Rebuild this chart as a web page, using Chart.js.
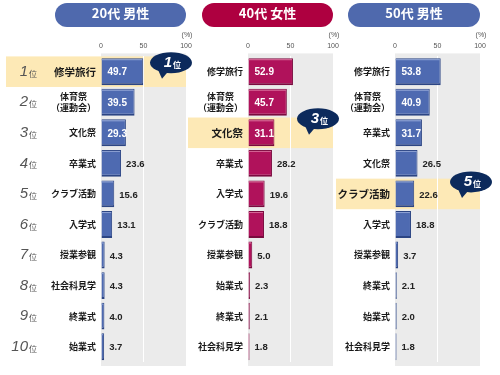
<!DOCTYPE html>
<html>
<head>
<meta charset="utf-8">
<script src="https://cdn.jsdelivr.net/npm/chart.js@4"></script>
<style>
  html, body { margin: 0; padding: 0; background: #fff; }
  #wrap { position: relative; width: 500px; height: 375px; overflow: hidden; }
  #wrap canvas { position: absolute; left: 0; top: 0; }
  .head {
    position: absolute; top: 3px; height: 24px; line-height: 24px;
    border-radius: 12px; color: #fff; text-align: center; z-index: 2;
    font: bold 13px "Noto Sans CJK JP", sans-serif;
  }
</style>
</head>
<body>
<div id="wrap">
  <div class="head" style="left:55px;width:131px;background:#4f69ad;">20代 男性</div>
  <div class="head" style="left:202px;width:131px;background:#ae0040;">40代 女性</div>
  <div class="head" style="left:348px;width:132px;background:#4f69ad;">50代 男性</div>
  <canvas id="c20m" width="500" height="375"></canvas>
  <canvas id="c40f" width="500" height="375"></canvas>
  <canvas id="c50m" width="500" height="375"></canvas>
</div>
<script>
// ---- data ----
const ranks = ['1', '2', '3', '4', '5', '6', '7', '8', '9', '10'];
const xTicks = [0, 50, 100];

const labels20m = ['修学旅行', ['体育祭　', '（運動会）'], '文化祭', '卒業式', 'クラブ活動', '入学式', '授業参観', '社会科見学', '終業式', '始業式'];
const values20m = [49.7, 39.5, 29.3, 23.6, 15.6, 13.1, 4.3, 4.3, 4.0, 3.7];

const labels40f = ['修学旅行', ['体育祭　', '（運動会）'], '文化祭', '卒業式', '入学式', 'クラブ活動', '授業参観', '始業式', '終業式', '社会科見学'];
const values40f = [52.9, 45.7, 31.1, 28.2, 19.6, 18.8, 5.0, 2.3, 2.1, 1.8];

const labels50m = ['修学旅行', ['体育祭　', '（運動会）'], '卒業式', '文化祭', 'クラブ活動', '入学式', '授業参観', '終業式', '始業式', '社会科見学'];
const values50m = [53.8, 40.9, 31.7, 26.5, 22.6, 18.8, 3.7, 2.1, 2.0, 1.8];

// rank that is highlighted in each panel (1-based)
const highlight20m = 1;
const highlight40f = 3;
const highlight50m = 5;

const JP = '"Noto Sans CJK JP", sans-serif';
const NUM = '"Liberation Sans", Arial, sans-serif';
const INSIDE_MIN = 29; // values at or above this get a white label inside the bar

// Draws the grey plot, highlight band, value labels, ranks and the bubble
const panelDecor = {
    id: 'panelDecor',
    beforeDraw(chart, args, opts) {
        const { ctx, chartArea: a, scales: { y } } = chart;
        const band = (a.bottom - a.top) / chart.data.labels.length;
        const hy = y.getPixelForValue(opts.highlight - 1);
        ctx.save();
        ctx.fillStyle = '#ebebeb';
        ctx.fillRect(a.left, a.top - 3, a.right - a.left, a.bottom - a.top + 7);
        ctx.fillStyle = '#fde9b6';
        ctx.fillRect(a.left - opts.bandLeft, hy - band / 2, a.right - a.left + opts.bandLeft, band);
        ctx.restore();
    },
    afterDatasetsDraw(chart, args, opts) {
        const { ctx } = chart;
        const meta = chart.getDatasetMeta(0);
        const values = chart.data.datasets[0].data;
        ctx.save();
        // light top edge on each bar (bevel look)
        ctx.strokeStyle = opts.shine;
        ctx.lineWidth = 1;
        meta.data.forEach((bar) => {
            const top = bar.y - bar.height / 2 + 1.5;
            ctx.beginPath();
            ctx.moveTo(bar.base, top);
            ctx.lineTo(bar.x - 1, top);
            ctx.stroke();
        });
        ctx.textBaseline = 'middle';
        ctx.textAlign = 'left';
        meta.data.forEach((bar, i) => {
            const v = values[i];
            if (v >= INSIDE_MIN) {
                ctx.fillStyle = '#fff';
                ctx.font = 'bold 10px ' + NUM;
                ctx.fillText(v.toFixed(1), bar.base + 6, bar.y + 1);
            } else {
                ctx.fillStyle = '#222';
                ctx.font = 'bold 9.5px ' + NUM;
                ctx.fillText(v.toFixed(1), bar.x + 5, bar.y + 1);
            }
        });
        ctx.restore();
    },
    afterDraw(chart, args, opts) {
        const { ctx, chartArea: a, scales: { y } } = chart;
        ctx.save();
        // (%) unit
        ctx.fillStyle = '#555';
        ctx.font = '7px ' + NUM;
        ctx.textAlign = 'center';
        ctx.textBaseline = 'middle';
        ctx.fillText('(%)', a.right + 1, a.top - 21);

        // rank column
        if (opts.showRanks) {
            ranks.forEach((r, i) => {
                const cy = y.getPixelForValue(i);
                ctx.fillStyle = '#555';
                ctx.textAlign = 'right';
                ctx.font = '8px ' + JP;
                ctx.fillText('位', 37, cy + 2);
                ctx.font = 'italic 15px ' + NUM;
                ctx.fillText(r, 28, cy);
            });
        }

        // speech bubble
        const bx = a.right + opts.bubbleDx;
        const by = y.getPixelForValue(opts.highlight - 1) + opts.bubbleDy;
        ctx.fillStyle = '#0c2a5c';
        ctx.beginPath();
        ctx.ellipse(bx, by, 21, 10.5, 0, 0, Math.PI * 2);
        ctx.fill();
        ctx.beginPath();
        ctx.moveTo(bx - 13, by + 7);
        ctx.lineTo(bx - 9, by + 16);
        ctx.lineTo(bx - 3, by + 9);
        ctx.closePath();
        ctx.fill();
        ctx.fillStyle = '#fff';
        ctx.textBaseline = 'middle';
        ctx.textAlign = 'right';
        ctx.font = 'italic bold 15px ' + NUM;
        ctx.fillText(String(opts.highlight), bx + 1, by);
        ctx.textAlign = 'left';
        ctx.font = 'bold 8px ' + JP;
        ctx.fillText('位', bx + 2, by + 2);
        ctx.restore();
    }
};

function makePanel(id, labels, values, fill, edge, decor, padLeft, padRight) {
    const hi = decor.highlight - 1;
    return new Chart(document.getElementById(id), {
        type: 'bar',
        data: {
            labels: labels,
            datasets: [{
                data: values,
                backgroundColor: fill,
                borderColor: edge,
                borderWidth: { top: 1, right: 1, bottom: 2, left: 0 },
                borderSkipped: 'start',
                barPercentage: 0.88,
                categoryPercentage: 1
            }]
        },
        options: {
            indexAxis: 'y',
            responsive: false,
            animation: false,
            layout: { padding: { left: padLeft, right: padRight, top: 36, bottom: 13 } },
            plugins: {
                legend: { display: false },
                tooltip: { enabled: false },
                panelDecor: decor
            },
            scales: {
                x: {
                    position: 'top',
                    min: 0,
                    max: 100,
                    afterBuildTicks: (s) => { s.ticks = xTicks.map(v => ({ value: v })); },
                    grid: {
                        drawTicks: false,
                        color: (c) => (c.tick && c.tick.value === 50 ? '#ffffff' : 'rgba(0,0,0,0)')
                    },
                    border: { display: false },
                    ticks: { padding: 6, color: '#555', font: { size: 7, family: NUM } }
                },
                y: {
                    afterFit: (s) => { s.width = 60; },
                    grid: { display: false, drawTicks: false },
                    border: { display: false },
                    ticks: {
                        padding: 5,
                        color: '#1a1a1a',
                        font: (c) => ({
                            family: JP,
                            weight: 'bold',
                            size: c.index === hi ? 10.5 : 9
                        })
                    }
                }
            }
        },
        plugins: [panelDecor]
    });
}

makePanel('c20m', labels20m, values20m, '#4e6ab1', '#2c4584',
    { highlight: highlight20m, bandLeft: 95, bubbleDx: -15, bubbleDy: -9, showRanks: true, shine: '#8fa3d4' }, 41, 314);
makePanel('c40f', labels40f, values40f, '#b0125b', '#7a0a3e',
    { highlight: highlight40f, bandLeft: 60, bubbleDx: -15, bubbleDy: -14, showRanks: false, shine: '#d66a98' }, 188, 167);
makePanel('c50m', labels50m, values50m, '#4e6ab1', '#2c4584',
    { highlight: highlight50m, bandLeft: 59, bubbleDx: -9, bubbleDy: -12, showRanks: false, shine: '#8fa3d4' }, 335, 20);
</script>
</body>
</html>
